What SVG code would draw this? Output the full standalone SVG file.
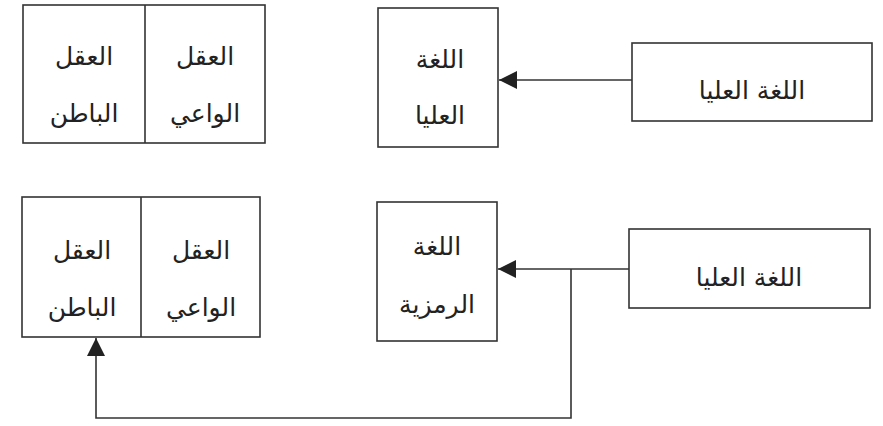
<svg xmlns="http://www.w3.org/2000/svg" width="883" height="426" viewBox="0 0 883 426">
<style>
.box{fill:#fff;stroke:#333;stroke-width:1.6}
.ln{fill:none;stroke:#333;stroke-width:1.6}
text{font-family:"DejaVu Sans","Noto Sans",sans-serif;font-size:25px;fill:#222;text-anchor:middle;direction:rtl}
</style>
<defs>
<marker id="ah" viewBox="0 0 10 10" refX="10" refY="5" markerWidth="18" markerHeight="18" markerUnits="userSpaceOnUse" orient="auto">
<path d="M0,0 L10,5 L0,10 z" fill="#222"/>
</marker>
</defs>
<rect width="883" height="426" fill="#fff"/>
<g id="mind-top">
<rect class="box" x="23" y="5" width="242" height="138"/>
<line class="ln" x1="145" y1="5" x2="145" y2="143"/>
<text x="84" y="65">العقل</text>
<text x="84" y="122">الباطن</text>
<text x="205" y="65">العقل</text>
<text x="205" y="122">الواعي</text>
</g>
<g id="lang-high-mid">
<rect class="box" x="378" y="8" width="120" height="139"/>
<text x="440" y="68">اللغة</text>
<text x="440" y="124">العليا</text>
</g>
<g id="lang-high-right-top">
<rect class="box" x="632" y="43" width="240" height="78"/>
<text x="752" y="99">اللغة العليا</text>
</g>
<g id="mind-bottom">
<rect class="box" x="22" y="197" width="238" height="140"/>
<line class="ln" x1="141" y1="197" x2="141" y2="337"/>
<text x="82" y="259">العقل</text>
<text x="82" y="316">الباطن</text>
<text x="201" y="259">العقل</text>
<text x="201" y="316">الواعي</text>
</g>
<g id="lang-symbolic">
<rect class="box" x="377" y="202" width="120" height="139"/>
<text x="437" y="255">اللغة</text>
<text x="437" y="313">الرمزية</text>
</g>
<g id="lang-high-right-bottom">
<rect class="box" x="629" y="229" width="241" height="79"/>
<text x="749" y="286">اللغة العليا</text>
</g>
<g id="connectors">
<line class="ln" x1="632" y1="80" x2="499" y2="80" marker-end="url(#ah)"/>
<line class="ln" x1="629" y1="269" x2="498" y2="269" marker-end="url(#ah)"/>
<polyline class="ln" points="571,269 571,418 96,418 96,338" marker-end="url(#ah)"/>
</g>
</svg>
